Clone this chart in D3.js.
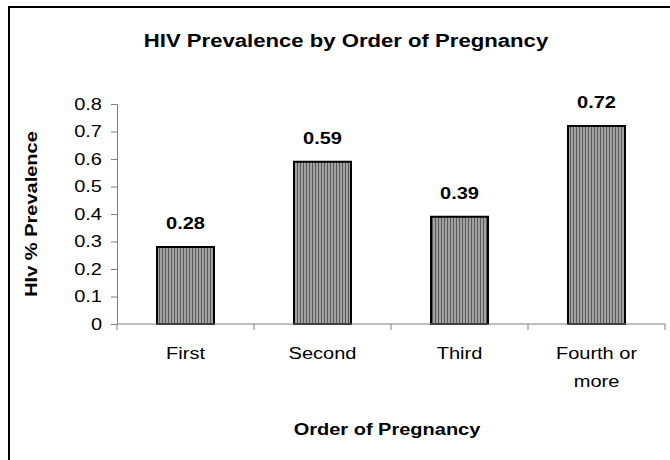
<!DOCTYPE html>
<html lang="en">
<head>
<meta charset="UTF-8">
<title>HIV Prevalence by Order of Pregnancy</title>
<script src="https://cdn.jsdelivr.net/npm/d3@7"></script>
<style>
  body { margin: 0; background: #fff; }
  svg text { font-family: "Liberation Sans", Arial, sans-serif; fill: #000; }
</style>
</head>
<body>
<svg id="chart" width="670" height="460"></svg>
<script>
const categories = ['First', 'Second', 'Third', 'Fourth or more']
const prevalence = [0.28, 0.59, 0.39, 0.72]
const yTicks = [0, 0.1, 0.2, 0.3, 0.4, 0.5, 0.6, 0.7, 0.8]

const svg = d3.select('#chart')
const plot = { left: 117, right: 665, top: 104, bottom: 324 }
const SX = 1.25  // the original text is drawn wide, stretch it sideways

// text placed at x,y and stretched along its baseline
function wideText(x, y, str, size, bold, sx = SX, rot = 0) {
    return svg.append('text')
        .attr('transform', `translate(${x},${y}) rotate(${rot}) scale(${sx},1)`)
        .attr('text-anchor', 'middle')
        .attr('font-size', size)
        .attr('font-weight', bold ? 'bold' : null)
        .text(str)
}

// striped fill like the old excel pattern
const pat = svg.append('defs').append('pattern')
    .attr('id', 'stripes')
    .attr('patternUnits', 'userSpaceOnUse')
    .attr('width', 3).attr('height', 10)
pat.append('rect').attr('width', 3).attr('height', 10).attr('fill', '#a2a2a2')
pat.append('rect').attr('width', 1).attr('height', 10).attr('fill', '#5a5a5a')

// outer chart frame (cut off at right / bottom)
svg.append('rect')
    .attr('x', 9).attr('y', 7)
    .attr('width', 700).attr('height', 500)
    .attr('fill', 'none')
    .attr('stroke', '#000')
    .attr('stroke-width', 2)

const x = d3.scaleBand()
    .domain(categories)
    .range([plot.left, plot.right])
    .paddingInner(0.584)
    .paddingOuter(0.292)

const y = d3.scaleLinear()
    .domain([0, 0.8])
    .range([plot.bottom, plot.top])

// y axis
const yAxis = svg.append('g')
    .attr('transform', `translate(${plot.left},0)`)
    .call(d3.axisLeft(y).tickValues(yTicks).tickFormat(d => d === 0 ? '0' : d3.format('.1f')(d)).tickSize(6))
yAxis.select('.domain').attr('stroke', '#7f7f7f')
yAxis.selectAll('.tick line').attr('stroke', '#7f7f7f')
yAxis.selectAll('.tick text')
    .attr('x', -15 / SX)
    .attr('transform', `scale(${SX},1)`)
    .attr('font-size', 16)
    .attr('font-family', '"Liberation Sans", Arial, sans-serif')

// bars
svg.selectAll('rect.bar')
    .data(prevalence)
    .join('rect')
    .attr('class', 'bar')
    .attr('x', (d, i) => x(categories[i]))
    .attr('y', d => y(d))
    .attr('width', x.bandwidth())
    .attr('height', d => y(0) - y(d))
    .attr('fill', 'url(#stripes)')
    .attr('stroke', '#000')
    .attr('stroke-width', 2)

// value labels
prevalence.forEach((d, i) => {
    wideText(x(categories[i]) + x.bandwidth() / 2, y(d) - 18, d, 16, true)
})

// x axis with ticks at band edges
const xg = svg.append('g')
xg.append('line')
    .attr('x1', plot.left).attr('x2', plot.right)
    .attr('y1', y(0)).attr('y2', y(0))
    .attr('stroke', '#7f7f7f')
const edges = categories.map(c => x(c) - x.step() * x.paddingInner() / 2).concat([plot.right])
xg.selectAll('line.tk')
    .data(edges)
    .join('line')
    .attr('class', 'tk')
    .attr('x1', d => d).attr('x2', d => d)
    .attr('y1', y(0)).attr('y2', y(0) + 6)
    .attr('stroke', '#7f7f7f')

// category labels (wrap last one)
categories.forEach(c => {
    const lines = c === 'Fourth or more' ? ['Fourth or', 'more'] : [c]
    lines.forEach((l, i) => {
        wideText(x(c) + x.bandwidth() / 2, 359 + i * 28, l, 16, false)
    })
})

// titles
wideText(346, 47, 'HIV Prevalence by Order of Pregnancy', 18, true, 1.23)
wideText((plot.left + plot.right) / 2 - 4, 435, 'Order of Pregnancy', 16, true)
wideText(37, (plot.top + plot.bottom) / 2, 'HIv % Prevalence', 16, true, SX, -90)
</script>
</body>
</html>
